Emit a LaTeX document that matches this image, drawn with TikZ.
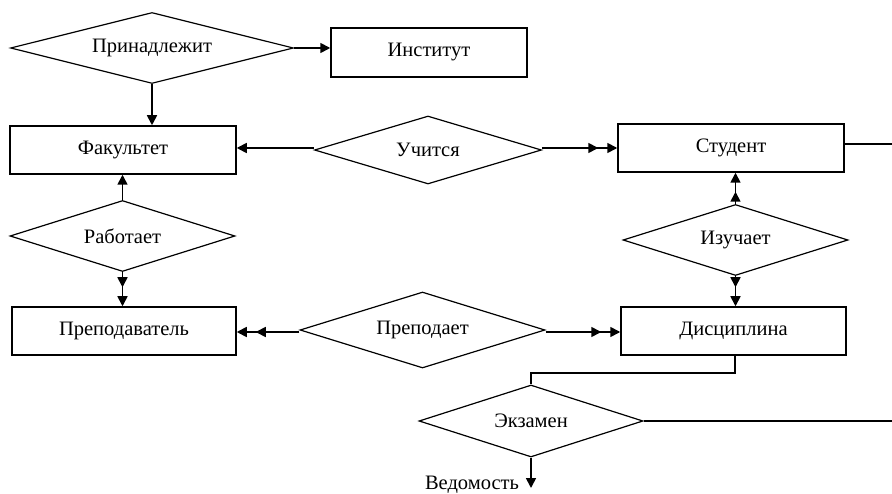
\documentclass[tikz,border=0pt]{standalone}
\usepackage{fontspec}
\setmainfont{Liberation Serif}
\usetikzlibrary{shapes.geometric,arrows.meta}

\tikzset{
  entity/.style={draw, line width=1.5pt, rectangle, inner sep=0pt,
    font=\fontsize{20.5}{24}\selectfont},
  relation/.style={draw, line width=1.2pt, diamond, inner sep=0pt, aspect=3,
    font=\fontsize{20.5}{24}\selectfont},
  link/.style={line width=1.7pt},
  thin link/.style={line width=1.2pt},
  one/.style={link, -{Triangle[length=10pt,width=10pt]}},
  many/.style={link, -{Triangle[length=10pt,width=10pt,sep=9pt]Triangle[length=10pt,width=10pt]}},
}

\begin{document}
\begin{tikzpicture}[x=1pt,y=-1pt]
\useasboundingbox (0,0) rectangle (892,494);

% relationships
\node[relation, minimum width=283pt, minimum height=71pt] (belongs) at (152,48) {Принадлежит};
\node[relation, minimum width=227pt, minimum height=68pt] (studies) at (428,150) {Учится};
\node[relation, minimum width=225pt, minimum height=71pt] (works) at (122.5,236) {Работает};
\node[relation, minimum width=225pt, minimum height=71pt] (learns) at (735.5,240) {Изучает};
\node[relation, minimum width=245pt, minimum height=76pt] (teaches) at (422.5,330) {Преподает};
\node[relation, minimum width=224pt, minimum height=72pt] (exam) at (531,421) {Экзамен};

% entities
\node[entity, minimum width=196pt, minimum height=49pt] (inst) at (429,52.5) {Институт};
\node[entity, minimum width=226pt, minimum height=48pt] (fac) at (123,150) {Факультет};
\node[entity, minimum width=226pt, minimum height=48pt] (stud) at (731,148) {Студент};
\node[entity, minimum width=224pt, minimum height=48pt] (teach) at (124,331) {Преподаватель};
\node[entity, minimum width=225pt, minimum height=48pt] (disc) at (733.5,331) {Дисциплина};
\node[font=\fontsize{20.5}{24}\selectfont, inner sep=0pt] (sheet) at (472,485) {Ведомость};

% free ends and bends
\coordinate (studout) at (892,144);
\coordinate (examout) at (892,421);
\coordinate (discdown) at (735,373);
\coordinate (bend) at (531,373);
\coordinate (sheettip) at (531,488);

% connectors
\draw[one] (belongs.east) -- (belongs.east -| inst.west);
\draw[one] (belongs.south) -- (belongs.south |- fac.north);
\draw[one] ([yshift=2pt]studies.west) -- ([yshift=2pt]studies.west -| fac.east);
\draw[many] ([yshift=2pt]studies.east) -- ([yshift=2pt]studies.east -| stud.west);
\draw[one] (works.north) -- (works.north |- fac.south);
\draw[many] (works.south) -- (works.south |- teach.north);
\draw[many] (learns.north) -- (learns.north |- stud.south);
\draw[many] (learns.south) -- (learns.south |- disc.north);
\draw[many] ([yshift=-2pt]teaches.west) -- ([yshift=-2pt]teaches.west -| teach.east);
\draw[many] ([yshift=-2pt]teaches.east) -- ([yshift=-2pt]teaches.east -| disc.west);
\draw[thin link] (stud.east |- studout) -- (studout);
\draw[thin link] (discdown |- disc.south) -- (discdown) -- (bend) -- (exam.north);
\draw[thin link] (exam.east) -- (examout);
\draw[one] (exam.south) -- (sheettip);
\end{tikzpicture}
\end{document}
